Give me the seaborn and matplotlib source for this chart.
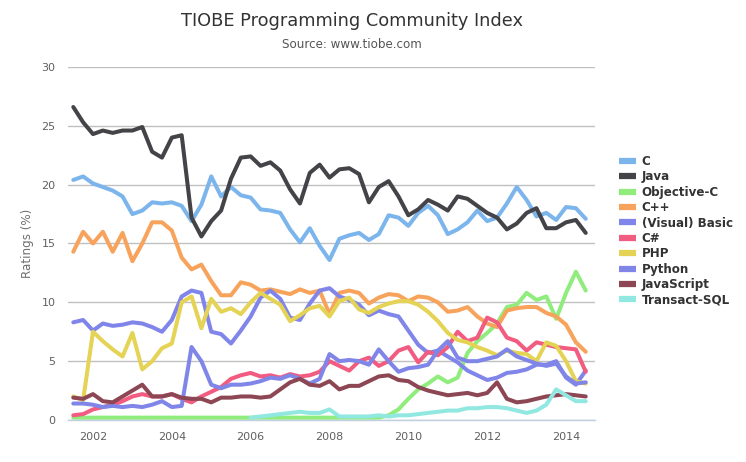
import numpy as np
import pandas as pd
import matplotlib
matplotlib.use("Agg")
import matplotlib.pyplot as plt
import seaborn as sns

# quarterly samples, mid 2001 .. mid 2014
years = np.arange(2001.5, 2014.51, 0.25)

c_vals = [20.4, 20.7, 20.1, 19.8, 19.5, 19.0, 17.5, 17.8, 18.5, 18.4,
          18.5, 18.2, 16.9, 18.3, 20.7, 19.0, 19.8, 19.1, 18.9, 17.9,
          17.8, 17.6, 16.2, 15.1, 16.3, 14.8, 13.6, 15.4, 15.7, 15.9,
          15.3, 15.8, 17.4, 17.2, 16.5, 17.6, 18.2, 17.4, 15.8, 16.2,
          16.8, 17.8, 16.9, 17.2, 18.4, 19.8, 18.7, 17.3, 17.6, 17.0,
          18.1, 18.0, 17.1]
java_vals = [26.6, 25.3, 24.3, 24.6, 24.4, 24.6, 24.6, 24.9, 22.8, 22.3,
             24.0, 24.2, 17.2, 15.6, 16.9, 17.8, 20.5, 22.3, 22.4, 21.6,
             21.9, 21.2, 19.6, 18.4, 21.0, 21.7, 20.6, 21.3, 21.4, 20.9,
             18.5, 19.8, 20.3, 19.0, 17.4, 17.9, 18.7, 18.3, 17.8, 19.0,
             18.8, 18.2, 17.6, 17.2, 16.2, 16.7, 17.6, 18.0, 16.3, 16.3,
             16.8, 17.0, 15.9]
objc_vals = [0.2] * 30 + [0.2, 0.2, 0.4, 0.9, 1.8, 2.6, 3.1, 3.7, 3.2, 3.6,
                          5.7, 6.7, 7.4, 8.2, 9.6, 9.8, 10.8, 10.2, 10.5, 8.6,
                          10.8, 12.6, 11.0]
cpp_vals = [14.3, 16.0, 15.0, 16.0, 14.3, 15.9, 13.5, 15.0, 16.8, 16.8,
            16.1, 13.8, 12.8, 13.2, 11.8, 10.6, 10.6, 11.7, 11.5, 11.0,
            11.1, 10.9, 10.7, 11.1, 10.8, 11.0, 9.0, 10.8, 11.0, 10.8,
            9.9, 10.4, 10.7, 10.6, 10.1, 10.5, 10.4, 10.0, 9.2, 9.3,
            9.6, 8.8, 8.2, 7.9, 9.3, 9.5, 9.6, 9.6, 9.1, 8.8,
            8.1, 6.6, 5.8]
vb_vals = [8.3, 8.5, 7.6, 8.2, 8.0, 8.1, 8.3, 8.2, 7.9, 7.5,
           8.5, 10.5, 11.0, 10.8, 7.5, 7.3, 6.5, 7.6, 8.8, 10.4,
           11.0, 10.3, 8.7, 8.5, 9.9, 11.0, 11.2, 10.5, 10.2, 9.8,
           8.9, 9.3, 9.0, 8.8, 7.6, 6.4, 5.7, 5.9, 5.4, 4.9,
           4.2, 3.8, 3.4, 3.6, 4.0, 4.1, 4.3, 4.7, 4.7, 5.0,
           3.6, 3.0, 4.2]
csharp_vals = [0.4, 0.5, 0.9, 1.1, 1.3, 1.6, 2.0, 2.2, 2.0, 2.0,
               2.2, 1.8, 1.5, 2.0, 2.4, 2.8, 3.5, 3.8, 4.0, 3.7,
               3.8, 3.6, 3.9, 3.7, 3.8, 4.1, 5.0, 4.6, 4.2, 5.0,
               5.3, 4.6, 5.0, 5.9, 6.2, 4.9, 5.8, 5.5, 6.2, 7.5,
               6.7, 7.0, 8.7, 8.3, 7.0, 6.7, 5.9, 6.6, 6.4, 6.2,
               6.1, 6.0, 4.1]
php_vals = [2.0, 1.7, 7.5, 6.7, 6.0, 5.4, 7.4, 4.3, 5.0, 6.1,
            6.5, 10.0, 10.5, 7.8, 10.3, 9.2, 9.5, 9.0, 10.0, 10.8,
            10.3, 9.8, 8.4, 8.9, 9.5, 9.7, 8.8, 10.1, 10.4, 9.4,
            9.1, 9.6, 9.9, 10.1, 10.1, 9.8, 9.2, 8.4, 7.4, 6.8,
            6.6, 6.2, 5.9, 5.5, 5.9, 5.7, 5.6, 5.0, 6.6, 6.3,
            5.0, 3.3, 3.1]
python_vals = [1.4, 1.4, 1.3, 1.1, 1.2, 1.1, 1.2, 1.1, 1.3, 1.6,
               1.1, 1.2, 6.2, 5.0, 3.0, 2.7, 3.0, 3.0, 3.1, 3.3,
               3.6, 3.5, 3.8, 3.5, 3.1, 3.5, 5.6, 5.0, 5.1, 5.0,
               4.7, 6.0, 5.0, 4.1, 4.4, 4.5, 4.7, 5.9, 6.7, 5.3,
               5.0, 5.0, 5.2, 5.4, 6.0, 5.4, 5.1, 4.8, 4.6, 4.8,
               3.7, 3.1, 3.2]
js_vals = [1.9, 1.8, 2.2, 1.6, 1.5, 2.0, 2.5, 3.0, 2.0, 2.0,
           2.2, 1.9, 1.8, 1.8, 1.5, 1.9, 1.9, 2.0, 2.0, 1.9,
           2.0, 2.6, 3.2, 3.5, 3.0, 2.9, 3.3, 2.6, 2.9, 2.9,
           3.3, 3.7, 3.8, 3.4, 3.3, 2.8, 2.5, 2.3, 2.1, 2.2,
           2.3, 2.1, 2.3, 3.2, 1.8, 1.5, 1.6, 1.8, 2.0, 2.1,
           2.2, 2.1, 2.0]
tsql_vals = [np.nan] * 18 + [0.2, 0.3, 0.4, 0.5, 0.6, 0.7, 0.6, 0.6, 0.9, 0.3,
                             0.3, 0.3, 0.3, 0.4, 0.3, 0.4, 0.4, 0.5, 0.6, 0.7,
                             0.8, 0.8, 1.0, 1.0, 1.1, 1.1, 1.0, 0.8, 0.6, 0.8,
                             1.3, 2.6, 2.1, 1.6, 1.6]

languages = ["C", "Java", "Objective-C", "C++", "(Visual) Basic", "C#",
             "PHP", "Python", "JavaScript", "Transact-SQL"]
series = [c_vals, java_vals, objc_vals, cpp_vals, vb_vals, csharp_vals,
          php_vals, python_vals, js_vals, tsql_vals]
colors = ["#7cb5ec", "#434348", "#90ed7d", "#f7a35c", "#8085e9",
          "#f15c80", "#e4d354", "#8085e8", "#8d4653", "#91e8e1"]

df = pd.concat([pd.DataFrame({"year": years, "rating": vals, "lang": name})
                for name, vals in zip(languages, series)], ignore_index=True)

sns.set_style("white")
plt.rcParams["font.family"] = ["DejaVu Sans"]

fig = plt.figure(figsize=(7.46, 4.62), dpi=100)
ax = fig.add_axes([68 / 746, 42 / 462, 527 / 746, 353 / 462])

sns.lineplot(data=df, x="year", y="rating", hue="lang", hue_order=languages,
             palette=dict(zip(languages, colors)), linewidth=2.9,
             legend=False, ax=ax, sort=True)
for ln in ax.get_lines():
    ln.set_solid_joinstyle("round")
    ln.set_solid_capstyle("round")

ax.set_xlim(2001.366, 2014.735)
ax.set_ylim(0, 30)
ax.set_yticks(range(0, 31, 5))
ax.set_xticks(range(2002, 2015, 2))
ax.yaxis.grid(True, color="#c0c0c0", linewidth=1)
ax.set_axisbelow(True)
for s in ["top", "right", "left"]:
    ax.spines[s].set_visible(False)
ax.spines["bottom"].set_color("#c0d0e0")
ax.spines["bottom"].set_linewidth(1)
ax.tick_params(axis="y", length=0, pad=9, labelsize=8, labelcolor="#606060")
ax.tick_params(axis="x", length=7, width=1, color="#c0d0e0", pad=2,
               labelsize=8, labelcolor="#606060")
ax.set_xlabel("")
ax.set_ylabel("")

fig.text(352 / 746, 1 - 21 / 462, "TIOBE Programming Community Index",
         ha="center", va="center", fontsize=12.8, color="#333333")
fig.text(352 / 746, 1 - 45 / 462, "Source: www.tiobe.com",
         ha="center", va="center", fontsize=8.6, color="#555555")
fig.text(28 / 746, 1 - 243 / 462, "Ratings (%)", rotation=90,
         ha="center", va="center", fontsize=8.6, color="#707070")

handles = [plt.Line2D([], [], color=col, linewidth=4.5, solid_capstyle="butt")
           for col in colors]
leg = fig.legend(handles, languages, loc="upper left",
                 bbox_to_anchor=(619 / 746, 1 - 155 / 462), frameon=False,
                 handlelength=1.4, handletextpad=0.5, labelspacing=0.2,
                 borderaxespad=0, borderpad=0,
                 prop={"size": 8.6, "weight": "bold"})
for t in leg.get_texts():
    t.set_color("#333333")

fig.savefig("out.png", dpi=100)
